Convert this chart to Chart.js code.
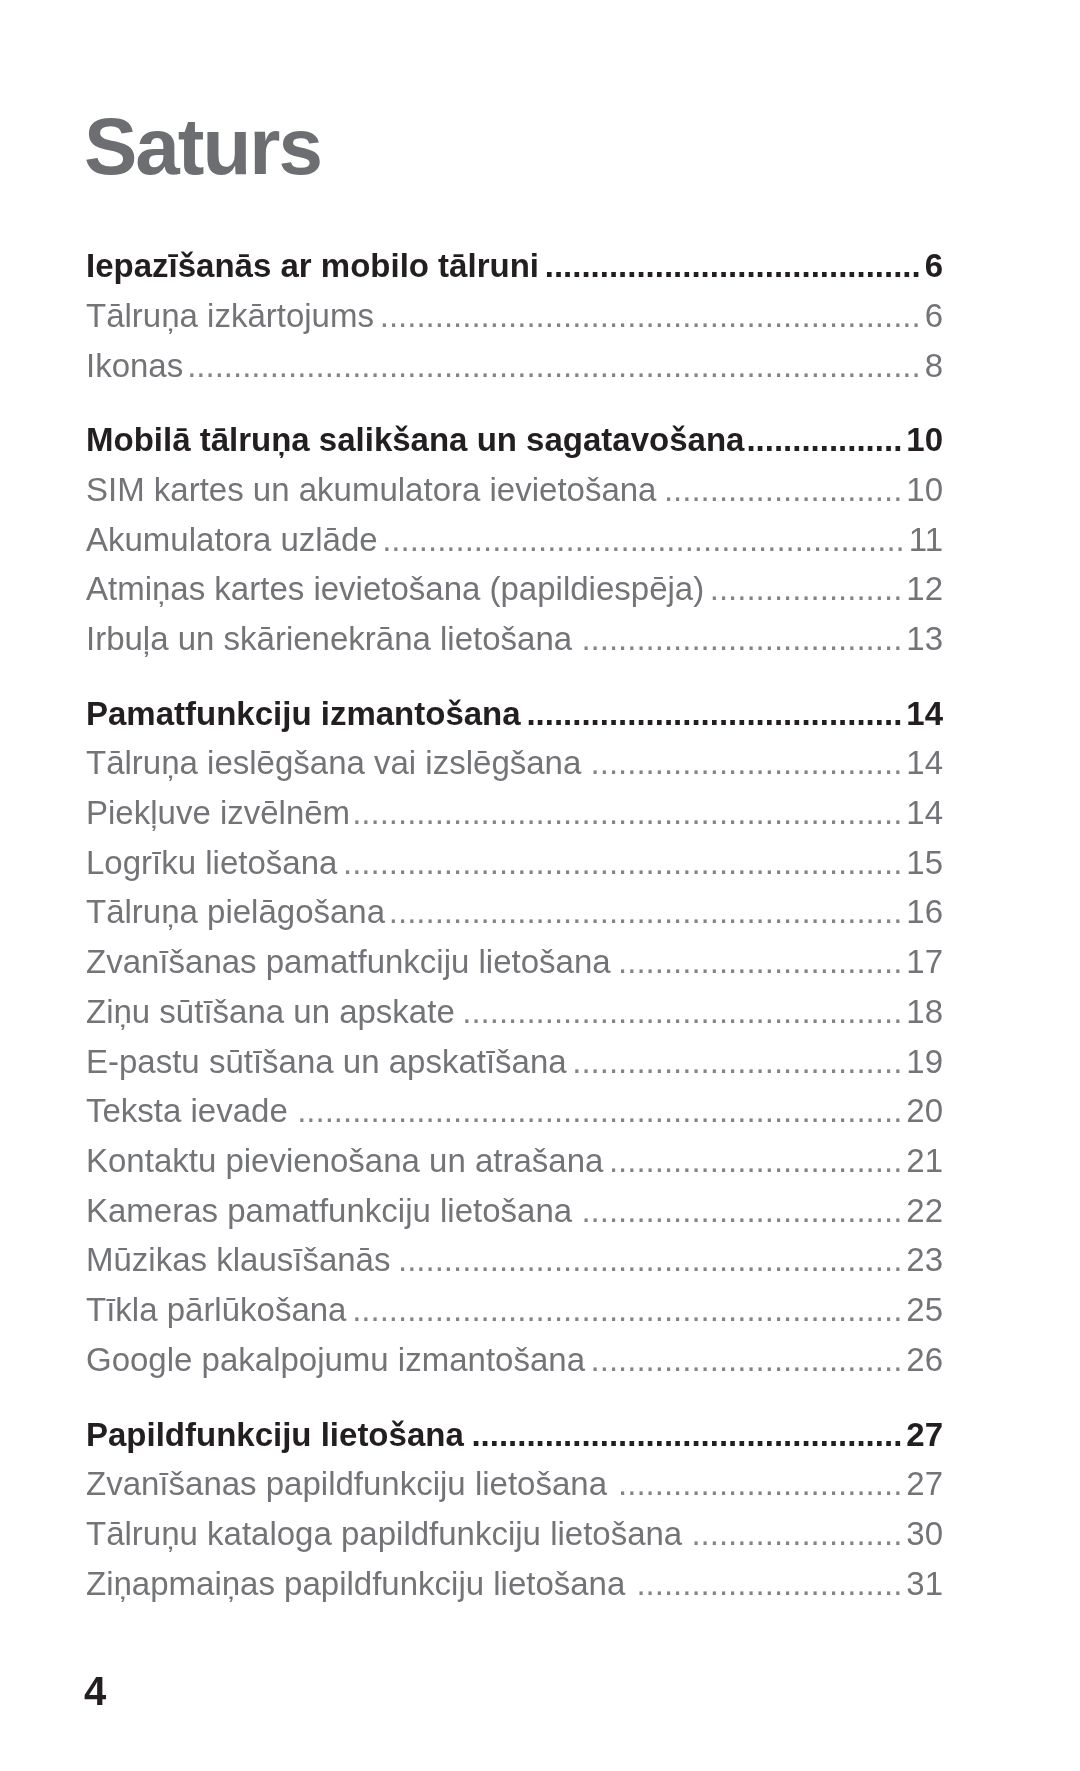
<!DOCTYPE html>
<html>
<head>
<meta charset="utf-8">
<script src="https://cdn.jsdelivr.net/npm/chart.js@4.4.1/dist/chart.umd.min.js"></script>
<style>
  html, body { margin: 0; padding: 0; background: #ffffff; }
  body { width: 1080px; height: 1771px; position: relative; overflow: hidden; }
  #wrap { position: absolute; left: 0; top: 0; width: 1080px; height: 1771px; }
  #title { position: absolute; left: 84px; top: 107px; margin: 0;
    font: bold 80px "Liberation Sans", Arial, sans-serif; line-height: 80px;
    color: #6d6e71; letter-spacing: -2px; white-space: nowrap; }
  #pageno { position: absolute; left: 84px; top: 1671px;
    font: bold 40px "Liberation Sans", Arial, sans-serif; line-height: 40px;
    color: #231f20; }
</style>
</head>
<body>
<div id="wrap"><canvas id="c" width="1080" height="1771"></canvas></div>
<h1 id="title">Saturs</h1>
<div id="pageno">4</div>
<script>
// ---- data ----
const entryTitles = [
  "Iepazīšanās ar mobilo tālruni",
  "Tālruņa izkārtojums",
  "Ikonas",
  "Mobilā tālruņa salikšana un sagatavošana",
  "SIM kartes un akumulatora ievietošana",
  "Akumulatora uzlāde",
  "Atmiņas kartes ievietošana (papildiespēja)",
  "Irbuļa un skārienekrāna lietošana",
  "Pamatfunkciju izmantošana",
  "Tālruņa ieslēgšana vai izslēgšana",
  "Piekļuve izvēlnēm",
  "Logrīku lietošana",
  "Tālruņa pielāgošana",
  "Zvanīšanas pamatfunkciju lietošana",
  "Ziņu sūtīšana un apskate",
  "E-pastu sūtīšana un apskatīšana",
  "Teksta ievade",
  "Kontaktu pievienošana un atrašana",
  "Kameras pamatfunkciju lietošana",
  "Mūzikas klausīšanās",
  "Tīkla pārlūkošana",
  "Google pakalpojumu izmantošana",
  "Papildfunkciju lietošana",
  "Zvanīšanas papildfunkciju lietošana",
  "Tālruņu kataloga papildfunkciju lietošana",
  "Ziņapmaiņas papildfunkciju lietošana"
];
const entryPages = [6, 6, 8, 10, 10, 11, 12, 13, 14, 14, 14, 15, 16, 17, 18, 19, 20, 21, 22, 23, 25, 26, 27, 27, 30, 31];
// 0 = section heading, 1 = sub-entry
const entryLevels = [0, 1, 1, 0, 1, 1, 1, 1, 0, 1, 1, 1, 1, 1, 1, 1, 1, 1, 1, 1, 1, 1, 0, 1, 1, 1];

// row positions: one unit per line, half a unit extra before each new section
const entryRows = [];
(function () {
  let sec = -1;
  entryLevels.forEach((lv, i) => {
    if (lv === 0) sec++;
    entryRows.push(i + 0.5 * Math.max(sec, 0));
  });
})();

const FONT = '"Liberation Sans", Arial, sans-serif';
const headFont = { family: FONT, size: 33, weight: 'bold' };
const subFont = { family: FONT, size: 33, weight: 'normal' };
const headColor = '#231f20';
const subColor = '#737477';

function fontFor(i) { return entryLevels[i] === 0 ? headFont : subFont; }
function colorFor(i) { return entryLevels[i] === 0 ? headColor : subColor; }

function setRowTicks(scale) {
  scale.ticks = entryRows.map(v => ({ value: v }));
}

// leader dots between the entry text and its page number
const leaderPlugin = {
  id: 'leaders',
  afterDraw(chart) {
    const ctx = chart.ctx;
    const y = chart.scales.y;
    const y2 = chart.scales.y2;
    ctx.save();
    ctx.textBaseline = 'middle';
    ctx.textAlign = 'right';
    entryRows.forEach((row, i) => {
      const f = fontFor(i);
      ctx.font = `${f.weight} ${f.size}px ${f.family}`;
      const py = y.getPixelForValue(row);
      const textRight = y.left + ctx.measureText(entryTitles[i]).width;
      const numLeft = y2.right - ctx.measureText(String(entryPages[i])).width - 4;
      const dotW = ctx.measureText('.').width;
      const n = Math.floor((numLeft - textRight - 2) / dotW);
      if (n > 0) {
        ctx.fillStyle = entryLevels[i] === 0 ? headColor : '#838487';
        ctx.fillText('.'.repeat(n), numLeft, py);
      }
    });
    ctx.restore();
  }
};

const PX_TOP = 20, PX_BOTTOM = 20;
const ROW0 = 268, ROWH = 49.72;
const yMin = (PX_TOP - ROW0) / ROWH;
const yMax = (1771 - PX_BOTTOM - ROW0) / ROWH;

new Chart(document.getElementById('c'), {
  type: 'scatter',
  data: {
    datasets: [{
      data: entryRows.map((r, i) => ({ x: entryPages[i], y: r })),
      pointRadius: 0,
      pointHoverRadius: 0,
      showLine: false
    }]
  },
  plugins: [leaderPlugin],
  options: {
    responsive: false,
    animation: false,
    events: [],
    layout: { padding: { left: 86, right: 137, top: PX_TOP, bottom: PX_BOTTOM } },
    plugins: { legend: { display: false }, tooltip: { enabled: false }, title: { display: false } },
    scales: {
      x: { type: 'linear', display: false, min: 0, max: 40 },
      y: {
        type: 'linear', position: 'left', reverse: true, min: yMin, max: yMax,
        grid: { display: false }, border: { display: false },
        afterBuildTicks: setRowTicks,
        afterFit: scale => { scale.width = 760; },
        ticks: {
          autoSkip: false, crossAlign: 'far', padding: 0,
          callback: (v, i) => entryTitles[i],
          font: ctx => fontFor(ctx.index),
          color: ctx => colorFor(ctx.index)
        }
      },
      y2: {
        type: 'linear', position: 'right', reverse: true, min: yMin, max: yMax,
        grid: { display: false, drawOnChartArea: false }, border: { display: false },
        afterBuildTicks: setRowTicks,
        afterFit: scale => { scale.width = 60; },
        ticks: {
          autoSkip: false, crossAlign: 'far', padding: 0,
          callback: (v, i) => String(entryPages[i]),
          font: ctx => fontFor(ctx.index),
          color: ctx => colorFor(ctx.index)
        }
      }
    }
  }
});
</script>
</body>
</html>
